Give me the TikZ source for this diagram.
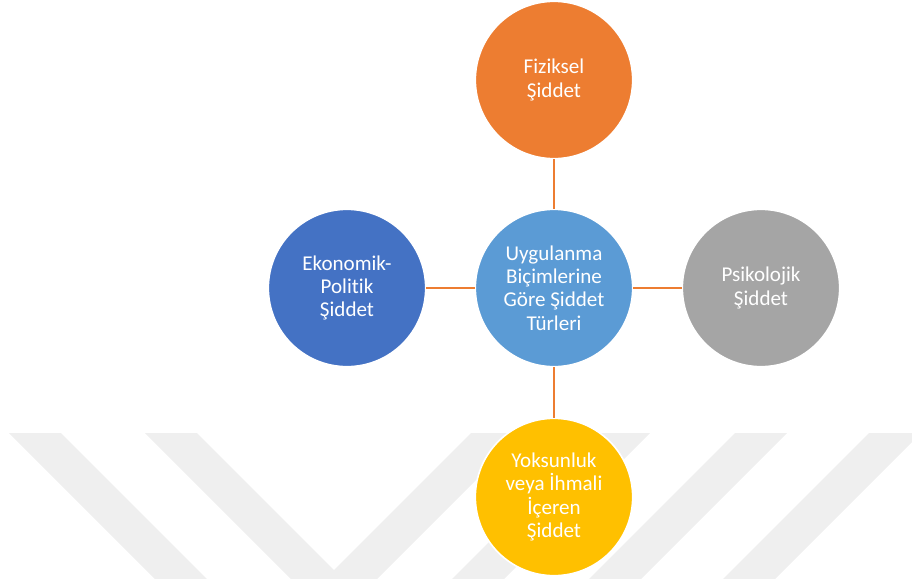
\documentclass[tikz,border=0pt]{standalone}
\usepackage{fontspec}
\setmainfont{Carlito}[Ligatures={NoCommon}]

\definecolor{fizorange}{HTML}{ED7D31}
\definecolor{ctrblue}{HTML}{5B9BD5}
\definecolor{ekoblue}{HTML}{4472C4}
\definecolor{psigray}{HTML}{A5A5A5}
\definecolor{yokgold}{HTML}{FFC000}
\definecolor{wmgray}{HTML}{EFEFEF}

\begin{document}
\begin{tikzpicture}[x=0.75pt,y=0.75pt]
    \tikzstyle{bubble}=[circle, draw=white, line width=1.2pt, minimum size=118pt, inner sep=0pt,
        align=center, text=white, font=\fontsize{15.8}{17.4}\selectfont]
    \tikzstyle{link}=[draw=fizorange, line width=1.6pt]
    \useasboundingbox (0,0) rectangle (912,-578);
    % faint watermark bands
    \begin{scope}
        \clip (0,0) rectangle (912,-578);
        \foreach \x in {9,145}
            \fill [wmgray] (\x,-433) -- ++(52,0) -- ++(160,-160) -- ++(-52,0) -- cycle;
        \foreach \x in {471,598,735,869}
            \fill [wmgray] (\x,-433) -- ++(52,0) -- ++(-160,-160) -- ++(-52,0) -- cycle;
    \end{scope}
    % circles
    \node [bubble, fill=ctrblue] (ctr) at (554,-288) {Uygulanma\\Biçimlerine\\Göre Şiddet\\Türleri};
    \node [bubble, fill=fizorange] (fiz) at (554,-80) {Fiziksel\\Şiddet};
    \node [bubble, fill=ekoblue] (eko) at (347,-288) {Ekonomik-\\Politik\\Şiddet};
    \node [bubble, fill=psigray] (psi) at (761,-288) {Psikolojik\\Şiddet};
    \node [bubble, fill=yokgold] (yok) at (554,-497) {Yoksunluk\\veya İhmali\\İçeren\\Şiddet};
    % connectors
    \draw [link] (ctr) -- (fiz);
    \draw [link] (ctr) -- (eko);
    \draw [link] (ctr) -- (psi);
    \draw [link] (ctr) -- (yok);
\end{tikzpicture}
\end{document}
